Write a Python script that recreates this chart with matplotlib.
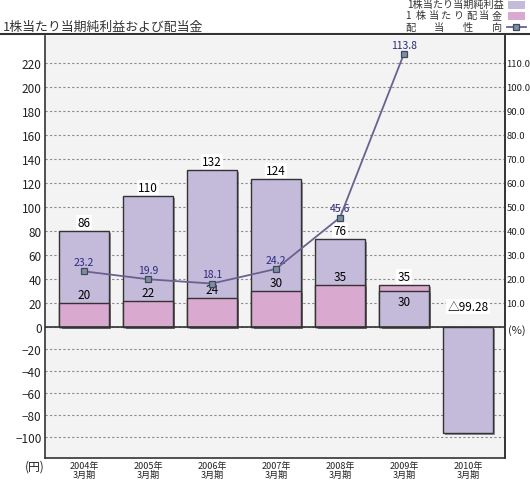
import numpy as np
import matplotlib
matplotlib.use('Agg')
import matplotlib.pyplot as plt
from matplotlib.patches import Rectangle
from matplotlib.lines import Line2D
import matplotlib.patheffects as pe

plt.rcParams['font.family'] = ['Noto Sans CJK JP', 'DejaVu Sans']

# データ
years = ['2004年\n3月期', '2005年\n3月期', '2006年\n3月期', '2007年\n3月期',
         '2008年\n3月期', '2009年\n3月期', '2010年\n3月期']
eps = [80, 109, 131, 123, 73, 30, -96]          # 棒の高さ
eps_text = ['86', '110', '132', '124', '76', '30', '△99.28']
div = [20, 22, 24, 30, 35, 35, np.nan]
div_text = ['20', '22', '24', '30', '35', '35', '']
payout = [23.2, 19.9, 18.1, 24.2, 45.6, 113.8]
payout_text = ['23.2', '19.9', '18.1', '24.2', '45.6', '113.8']

c_eps = '#c4bad9'
c_div = '#d9a9cf'
c_line = '#6b6190'
W, H = 530, 481


def px(x, y):
    return x / W, 1 - y / H


# 0より下は目盛り間隔が狭い
def fwd(y):
    y = np.asarray(y, dtype=float)
    return np.where(y >= 0, y, y * 11 / 12)


def inv(y):
    y = np.asarray(y, dtype=float)
    return np.where(y >= 0, y, y * 12 / 11)


fig = plt.figure(figsize=(W / 100, H / 100), dpi=100)
ax = fig.add_axes([45 / W, 1 - 459 / H, 460 / W, 422 / H])
ax.set_facecolor('#f3f3f3')
ax.set_yscale('function', functions=(fwd, inv))
ymin, ymax = -119.1, 242.5
ax.set_ylim(ymin, ymax)
ax.set_xlim(-0.61, 6.58)

shadow = [pe.SimplePatchShadow(offset=(1.6, -1.6), shadow_rgbFace='#555555', alpha=0.6), pe.Normal()]
x = np.arange(len(years))
for i in x:
    bars = [(eps[i], c_eps), (div[i], c_div)]
    bars = [b for b in bars if not np.isnan(b[0])]
    bars.sort(key=lambda b: -abs(b[0]))
    for k, (h, c) in enumerate(bars):
        ax.bar(i, h, width=0.77, color=c, edgecolor='#333333', linewidth=1,
               zorder=3 + k, path_effects=shadow)

# ラベル
for i in x:
    e = eps[i]
    d = div[i]
    if e < 0:
        ax.annotate(eps_text[i], (i, 0), xytext=(0, 10), textcoords='offset points',
                    ha='center', va='bottom', fontsize=8.5, zorder=10,
                    bbox=dict(boxstyle='square,pad=0.1', fc='white', ec='none'))
        continue
    if np.isnan(d) or e >= d:
        top, low, top_t, low_t = e, d, eps_text[i], div_text[i]
    else:
        top, low, top_t, low_t = d, e, div_text[i], eps_text[i]
    ax.annotate(top_t, (i, top), xytext=(0, 1.5), textcoords='offset points',
                ha='center', va='bottom', fontsize=8.5, zorder=10,
                bbox=dict(boxstyle='square,pad=0.1', fc='white', ec='none'))
    if not np.isnan(low):
        if top - low > 10:
            ax.annotate(low_t, (i, low), xytext=(0, 1.5), textcoords='offset points',
                        ha='center', va='bottom', fontsize=8.5, zorder=10)
        else:
            ax.annotate(low_t, (i, low), xytext=(0, -3), textcoords='offset points',
                        ha='center', va='top', fontsize=8.5, zorder=10)

ax.axhline(0, color='#333333', lw=1.2, zorder=8)

ax.set_yticks(list(range(-100, 221, 20)))
ax.grid(axis='y', linestyle=(0, (2, 2)), color='#8a8a8a', lw=0.8)
ax.set_axisbelow(True)
ax.set_xticks(x, years, fontsize=6.5, linespacing=1.0)
ax.tick_params(axis='both', length=0, labelsize=8.5, colors='#222222')
ax.tick_params(axis='y', pad=2.5)
ax.tick_params(axis='x', pad=2, labelsize=6.5)
for s in ['left', 'right', 'bottom']:
    ax.spines[s].set_color('#333333')
    ax.spines[s].set_linewidth(1.2)
ax.spines['top'].set_visible(False)

# 配当性向
ax2 = ax.twinx()
ax2.set_yscale('function', functions=(fwd, inv))
ax2.set_ylim(ymin / 2, ymax / 2)
ax2.plot(x[:len(payout)], payout, color=c_line, lw=1.3, marker='s', ms=4.5,
         mfc='#7d8ea3', mec='#3d4a5c', mew=0.9, zorder=5)
for i, v in enumerate(payout):
    ax2.annotate(payout_text[i], (i, v), xytext=(0, 3), textcoords='offset points',
                 ha='center', va='bottom', fontsize=7.5, color='#2a2a80')
ax2.set_yticks(list(range(10, 111, 10)))
ax2.set_yticklabels([f'{v:.1f}' for v in range(10, 111, 10)])
ax2.tick_params(axis='y', length=0, pad=1, labelsize=6.8, colors='#222222')
for s in ['left', 'top', 'bottom']:
    ax2.spines[s].set_visible(False)
ax2.spines['right'].set_color('#333333')
ax2.spines['right'].set_linewidth(1.2)

# タイトル・単位
fig.text(*px(3, 27), '1株当たり当期純利益および配当金', fontsize=9.3, color='#333333',
         ha='left', va='center')
fig.add_artist(Line2D([0, 1], [1 - 35 / H] * 2, transform=fig.transFigure,
                      color='#333333', lw=1.5))
fig.text(*px(35, 467), '(円)', fontsize=8.5, ha='center', va='center', color='#222222')
fig.text(*px(508, 331), '(%)', fontsize=8, ha='left', va='center', color='#222222')

# 凡例
fig.text(*px(504, 5), '1株当たり当期純利益', fontsize=7.3, ha='right', va='center', color='#333333')
for ch, xx in zip('1株当たり配当金', np.linspace(408, 497, 8)):
    fig.text(*px(xx, 16), ch, fontsize=7.3, ha='center', va='center', color='#333333')
for ch, xx in zip('配当性向', np.linspace(410, 497, 4)):
    fig.text(*px(xx, 28), ch, fontsize=7.3, ha='center', va='center', color='#333333')
fig.add_artist(Rectangle(px(508, 10), 17 / W, 8 / H, transform=fig.transFigure,
                         fc=c_eps, ec='none'))
fig.add_artist(Rectangle(px(508, 21), 17 / W, 8 / H, transform=fig.transFigure,
                         fc=c_div, ec='none'))
fig.add_artist(Line2D([507 / W, 526 / W], [1 - 28 / H] * 2, transform=fig.transFigure,
                      color=c_line, lw=1.3))
fig.add_artist(Line2D([516 / W], [1 - 28 / H], transform=fig.transFigure, marker='s',
                      ms=5, mfc='#7d8ea3', mec='#3d4a5c', mew=0.9))

fig.savefig('out.png', dpi=100)
